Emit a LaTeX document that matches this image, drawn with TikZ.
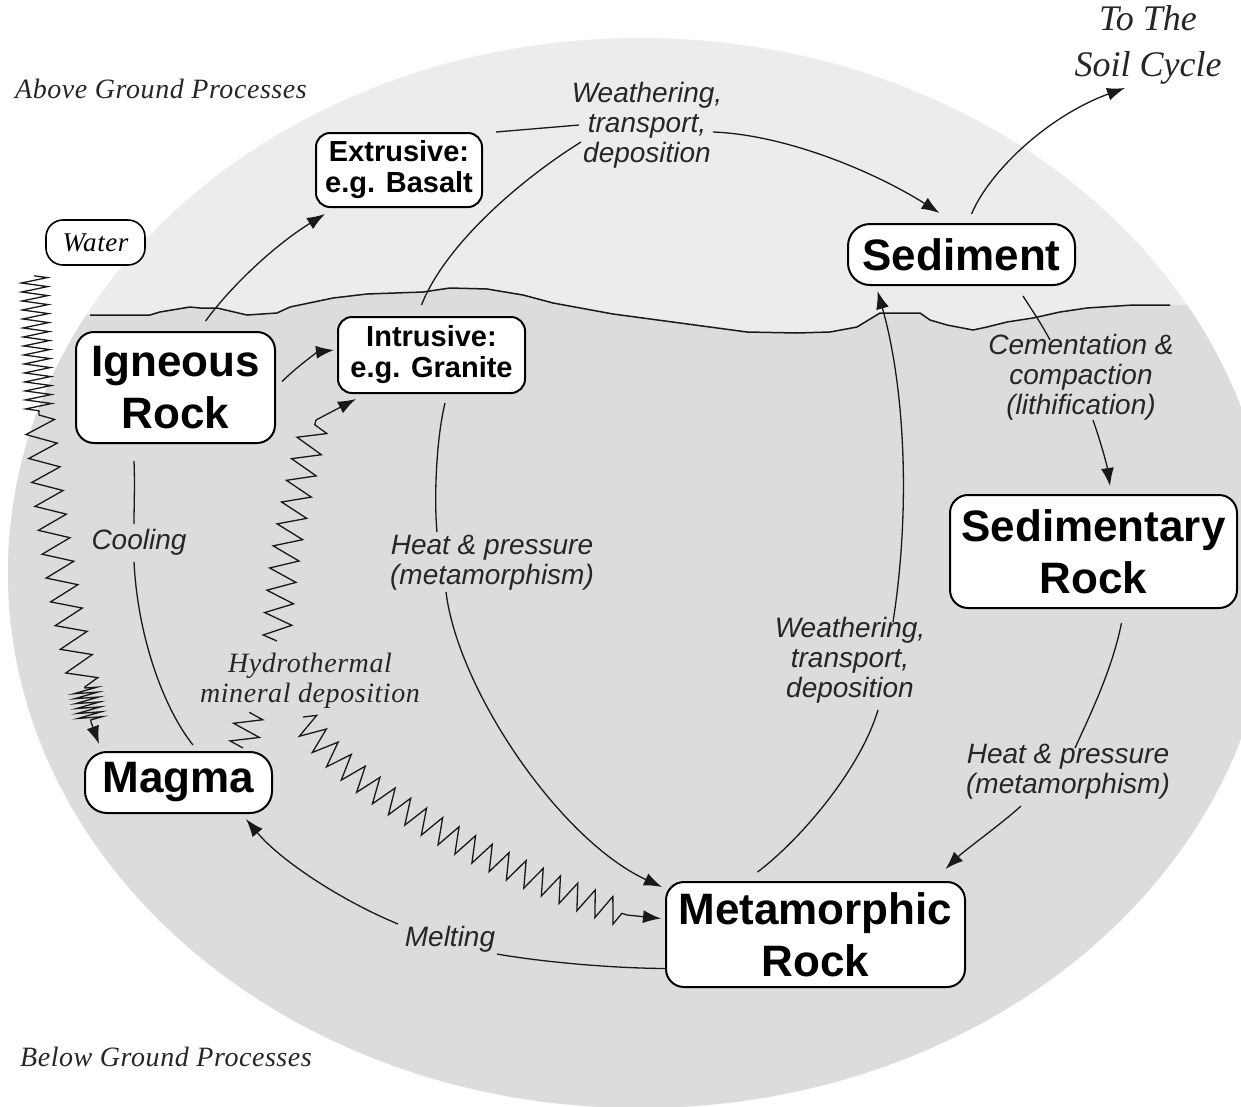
\documentclass[tikz,border=0pt]{standalone}
\usepackage{fontspec}
\setmainfont{Liberation Sans}
\newfontfamily\timesf[LetterSpace=2]{Liberation Serif}
\newfontfamily\timesplain{Liberation Serif}
\usetikzlibrary{arrows.meta,decorations.pathmorphing}
\definecolor{skylight}{RGB}{236,236,236}
\definecolor{earthgrey}{RGB}{220,220,220}
\definecolor{labelink}{RGB}{38,38,38}
\begin{document}
\begin{tikzpicture}[x=1pt,y=-1pt,
  rock/.style={draw, line width=2pt, fill=white, rounded corners=18pt, inner sep=0pt,
    align=center, font=\bfseries\fontsize{44}{52}\selectfont},
  smallrock/.style={rock, rounded corners=14pt, font=\bfseries\fontsize{29}{31}\selectfont},
  waterbox/.style={draw, line width=1.6pt, fill=white, rounded corners=17pt, inner sep=0pt,
    font=\timesf\itshape\fontsize{27}{28}\selectfont},
  proc/.style={inner sep=0pt, align=center, text=labelink, font=\itshape\fontsize{28}{30}\selectfont},
  note/.style={inner sep=0pt, align=center, text=labelink, font=\timesf\itshape\fontsize{28}{30}\selectfont},
  link/.style={line width=1.3pt, black!90},
  flow/.style={link, -{Latex[length=18pt,width=13pt]}},
  ground/.style={line width=1.5pt, black!90}
]
\useasboundingbox (0,0) rectangle (1241,1106);
\fill[white] (0,0) rectangle (1241,1106);

% the earth disc: sky part above the surface, rock part below
\begin{scope}
  \clip (0,0) rectangle (1241,1106);
  \fill[skylight] (640,573) ellipse [x radius=632, y radius=535];
  \begin{scope}
    \clip (640,573) ellipse [x radius=632, y radius=535];
    \fill[earthgrey] (-20,315) -- (90,315) -- (150,315) -- (160,312) -- (190,307) -- (200,308)
      -- (217,308) -- (247,315) -- (277,313) -- (290,307) -- (333,298) -- (367,294) -- (423,292)
      -- (450,288) -- (487,289) -- (523,295) -- (553,303) -- (613,314) -- (680,323) -- (747,332)
      -- (797,333) -- (830,332) -- (857,327) -- (880,313) -- (920,313) -- (930,320) -- (947,325)
      -- (973,330) -- (987,327) -- (1007,322) -- (1033,318) -- (1060,312) -- (1087,308)
      -- (1133,305) -- (1170,305) -- (1300,305) -- (1300,1200) -- (-20,1200) -- cycle;
  \end{scope}
  % ground surface
  \draw[ground] (90,315) -- (150,315) -- (160,312) -- (190,307) -- (200,308)
      -- (217,308) -- (247,315) -- (277,313) -- (290,307) -- (333,298) -- (367,294) -- (423,292)
      -- (450,288) -- (487,289) -- (523,295) -- (553,303) -- (613,314) -- (680,323) -- (747,332)
      -- (797,333) -- (830,332) -- (857,327) -- (880,313) -- (920,313) -- (930,320) -- (947,325)
      -- (973,330) -- (987,327) -- (1007,322) -- (1033,318) -- (1060,312) -- (1087,308)
      -- (1133,305) -- (1170,305);
\end{scope}

% rock boxes
\node[rock, minimum width=199pt, minimum height=111pt] (ign) at (175.5,387.5) {Igneous\\Rock};
\node[smallrock, minimum width=166pt, minimum height=74pt] (ext) at (399,170) {Extrusive:\\e.g. Basalt};
\node[smallrock, minimum width=187pt, minimum height=76pt] (intr) at (431.5,355) {Intrusive:\\e.g. Granite};
\node[waterbox, minimum width=99pt, minimum height=45pt] (water) at (95.5,242.5) {Water};
\node[rock, rounded corners=22pt, minimum width=227pt, minimum height=61pt] (sed) at (961.5,254.5) {Sediment};
\node[rock, minimum width=287pt, minimum height=113pt] (sedr) at (1093.5,551.5) {Sedimentary\\Rock};
\node[rock, rounded corners=22pt, minimum width=187pt, minimum height=61pt] (mag) at (178.5,782.5) {Magma};
\node[rock, minimum width=299pt, minimum height=105pt] (meta) at (815.5,934.5) {Metamorphic\\Rock};

% process labels
\node[proc] (wt1) at (647,125) {Weathering,\\transport,\\deposition};
\node[proc] (cem) at (1081,377) {Cementation \&\\compaction\\(lithification)};
\node[proc] (hp1) at (492,563) {Heat \& pressure\\(metamorphism)};
\node[proc] (cool) at (139,542) {Cooling};
\node[proc] (wt2) at (850,660) {Weathering,\\transport,\\deposition};
\node[proc] (hp2) at (1068,772) {Heat \& pressure\\(metamorphism)};
\node[proc] (melt) at (450,939) {Melting};
\node[note] (hyd) at (310,681) {Hydrothermal\\mineral deposition};
\node[note, anchor=west] (above) at (15,89) {Above Ground Processes};
\node[note, anchor=west] (below) at (20,1057) {Below Ground Processes};
\node[note, font=\timesplain\itshape\fontsize{36}{46}\selectfont] (soil) at (1148,45) {To The\\Soil Cycle};

% igneous branches
\draw[flow] ([shift={(30,-10)}]ign.north) .. controls (232,285) and (275,245) .. ([shift={(10,6)}]ext.south west);
\draw[flow] ([shift={(6,-6)}]ign.east) .. controls (300,364) and (318,352) .. ([shift={(-3,-5)}]intr.west);

% weathering to sediment
\draw[link] ([shift={(13,0)}]ext.north east) -- ([shift={(-68,0)}]wt1.center);
\draw[link] ([shift={(-10,-11)}]intr.north) .. controls (445,245) and (520,180) .. ([shift={(-66,17)}]wt1.center);
\draw[flow] ([shift={(66,7)}]wt1.center) .. controls (790,135) and (880,175) .. ([shift={(-22,-10)}]sed.north);

% off to the soil cycle
\draw[flow] ([shift={(10,-9)}]sed.north) .. controls (990,170) and (1050,115) .. ([shift={(-23,43)}]soil.center);

% lithification
\draw[link] ([shift={(61.5,10)}]sed.south) .. controls (1032,310) and (1042,325) .. ([shift={(-31,-37)}]cem.center);
\draw[flow] ([shift={(12,43)}]cem.center) .. controls (1100,440) and (1107,465) .. ([shift={(16.5,-8)}]sedr.north);

% sedimentary to metamorphic
\draw[link] ([shift={(28,14)}]sedr.south) .. controls (1112,670) and (1090,715) .. ([shift={(7,-24)}]hp2.center);
\draw[flow] ([shift={(-47,34)}]hp2.center) .. controls (1000,825) and (965,850) .. ([shift={(130,-12)}]meta.north);

% metamorphic weathered back to sediment
\draw[link] ([shift={(-58,-9)}]meta.north) .. controls (800,840) and (860,770) .. ([shift={(28,50)}]wt2.center);
\draw[flow] ([shift={(43,-38)}]wt2.center) .. controls (912,500) and (903,380) .. ([shift={(-84,5)}]sed.south);

% intrusive to metamorphic
\draw[link] ([shift={(13.5,9)}]intr.south) .. controls (436,440) and (434,500) .. ([shift={(-55,-31)}]hp1.center);
\draw[flow] ([shift={(-46,29)}]hp1.center) .. controls (458,690) and (560,840) .. ([shift={(-3,6)}]meta.north west);

% cooling
\draw[link] ([shift={(-41.5,17)}]ign.south) .. controls (135,485) and (134,505) .. ([shift={(-5,-18)}]cool.center);
\draw[link] ([shift={(-5,20)}]cool.center) .. controls (138,640) and (165,710) .. ([shift={(14.5,-6)}]mag.north);

% melting
\draw[link] ([shift={(0,34)}]meta.west) .. controls (600,968) and (530,960) .. ([shift={(47,15)}]melt.center);
\draw[flow] ([shift={(-52,-15)}]melt.center) .. controls (340,900) and (280,860) .. ([shift={(-27,5)}]mag.south east);

% water seeping down to the magma
\draw[flow] ([shift={(-11,10)}]water.south west)
  decorate[decoration={zigzag, segment length=9pt, amplitude=13pt}]{-- (39,415)}
  decorate[decoration={zigzag, segment length=24pt, amplitude=15pt}]{.. controls (50,520) and (65,610) .. (85,688)}
  decorate[decoration={zigzag, segment length=5pt, amplitude=12pt}]{-- (91,722)}
  -- ([shift={(15,-7)}]mag.north west);

% hydrothermal fluids
\draw[link] ([shift={(64.5,-3)}]mag.north)
  decorate[decoration={zigzag, segment length=18pt, amplitude=14pt}]{-- ([shift={(-60,31)}]hyd.center)};
\draw[flow] ([shift={(-33,-40)}]hyd.center)
  decorate[decoration={zigzag, segment length=22pt, amplitude=14pt}]{.. controls (280,560) and (300,480) .. (316,420)}
  -- ([shift={(19,5)}]intr.south west);
\draw[flow] ([shift={(-7,36)}]hyd.center)
  decorate[decoration={zigzag, segment length=19pt, amplitude=13pt}]{.. controls (340,790) and (520,880) .. (627,915)}
  -- ([shift={(-4,-16)}]meta.west);
\end{tikzpicture}
\end{document}
